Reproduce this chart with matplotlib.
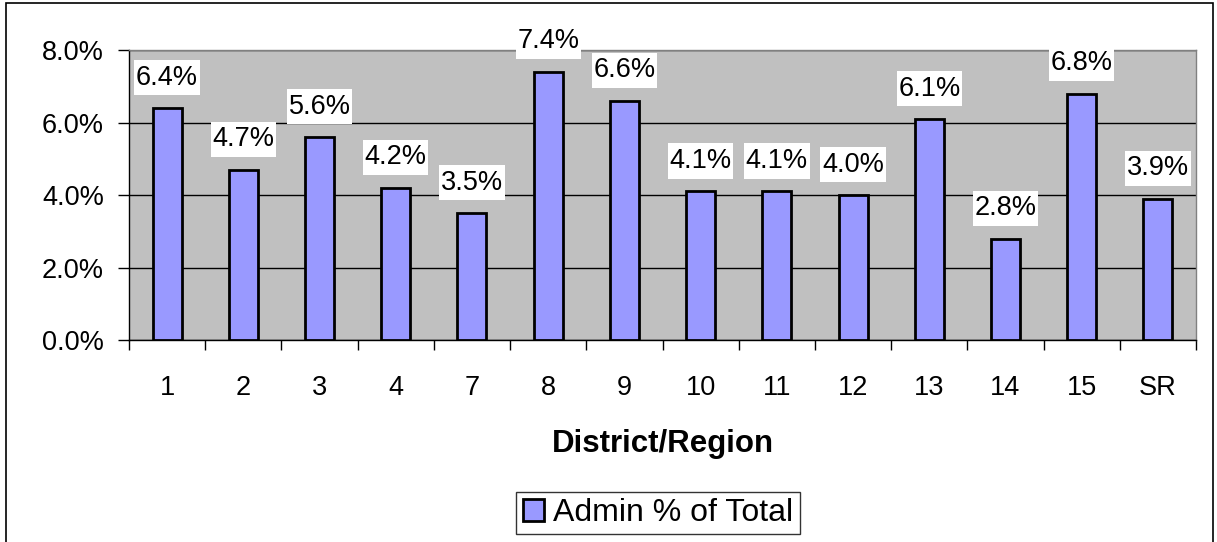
import matplotlib
matplotlib.use("Agg")
import matplotlib.pyplot as plt
from matplotlib.patches import Rectangle
from matplotlib.path import Path
from matplotlib.ticker import FixedLocator, NullFormatter

categories = ["1", "2", "3", "4", "7", "8", "9", "10", "11", "12", "13", "14", "15", "SR"]
admin_pct = [6.4, 4.7, 5.6, 4.2, 3.5, 7.4, 6.6, 4.1, 4.1, 4.0, 6.1, 2.8, 6.8, 3.9]
y_ticks = [0, 2, 4, 6, 8]
series_name = "Admin % of Total"
x_title = "District/Region"

plt.rcParams['font.family'] = ['Liberation Sans', 'DejaVu Sans']
NUM_SIZE = 19.5


def label_box(x0, y0, width, height, mutation_size):
    # rectangular box, small horizontal and larger vertical padding
    px = 0.06 * mutation_size
    py = 0.17 * mutation_size
    l, b = x0 - px, y0 - py
    r, t = x0 + width + px, y0 + height + py
    return Path([(l, b), (r, b), (r, t), (l, t), (l, b)], closed=True)


W, H = 1217, 542
fig = plt.figure(figsize=(W / 100, H / 100), dpi=100)

# outer chart border
fig.patches.append(Rectangle((6 / W, -0.05), (1213 - 6) / W, 1.05 - 3 / H,
                             transform=fig.transFigure, fill=False,
                             edgecolor='black', linewidth=1.2))

ax = fig.add_axes([129 / W, (H - 340) / H, (1196 - 129) / W, 290 / H])
ax.set_facecolor('#C0C0C0')
x = list(range(len(categories)))
bars = ax.bar(x, admin_pct, width=0.38, color='#9999FF', edgecolor='black',
              linewidth=2, zorder=3, label=series_name)
ax.set_xlim(-0.5, len(categories) - 0.5)
ax.set_ylim(0, 8)
ax.set_yticks(y_ticks)
ax.set_yticklabels([f"{v:.1f}%" for v in y_ticks], fontsize=NUM_SIZE)
ax.yaxis.grid(True, color='black', linewidth=1, zorder=1)
ax.set_axisbelow(True)
ax.tick_params(axis='y', direction='out', length=8, width=1, pad=10)

ax.set_xticks(x)
ax.set_xticklabels(categories, fontsize=NUM_SIZE)
ax.tick_params(axis='x', which='major', length=0, pad=25)
ax.xaxis.set_minor_locator(FixedLocator([i - 0.5 for i in range(len(categories) + 1)]))
ax.xaxis.set_minor_formatter(NullFormatter())
ax.tick_params(axis='x', which='minor', direction='out', length=7, width=1)

for s in ['top', 'right']:
    ax.spines[s].set_color('#808080')
    ax.spines[s].set_linewidth(1)
for s in ['left', 'bottom']:
    ax.spines[s].set_color('black')
    ax.spines[s].set_linewidth(1)

for xi, v in zip(x, admin_pct):
    ax.annotate(f"{v:.1f}%", xy=(xi, v), xytext=(0, 12.5), textcoords='offset points',
                ha='center', va='bottom', annotation_clip=False, fontsize=NUM_SIZE,
                bbox=dict(boxstyle=label_box, facecolor='white', edgecolor='none'),
                zorder=5)

ax.set_xlabel(x_title, fontsize=22.5, fontweight='bold', labelpad=20.5)

leg = fig.legend(handles=[bars], labels=[series_name], loc='center',
                 bbox_to_anchor=(658 / W, 1 - 513 / H), fontsize=23,
                 frameon=True, fancybox=False, edgecolor='black',
                 handlelength=0.66, handleheight=0.66, handletextpad=0.3,
                 borderpad=0.2, borderaxespad=0)
leg.get_frame().set_linewidth(1)

fig.savefig("out.png", dpi=100)
